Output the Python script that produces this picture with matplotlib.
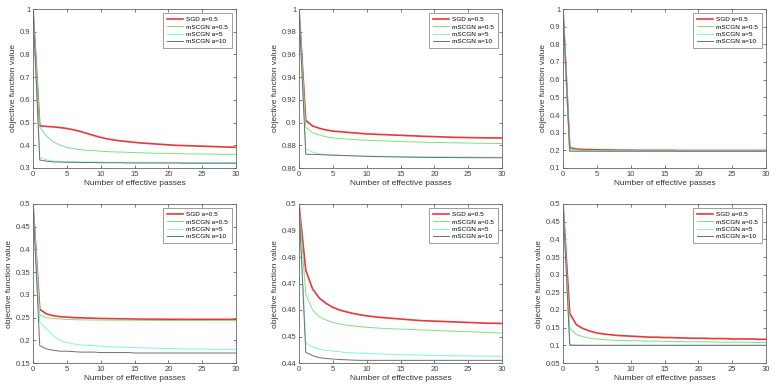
import numpy as np
import matplotlib
matplotlib.use('Agg')
import matplotlib.pyplot as plt

plt.rcParams['font.family'] = ['Liberation Sans', 'DejaVu Sans']

passes = list(range(31))
labels = ['SGD a=0.5', 'mSCGN a=0.5', 'mSCGN a=5', 'mSCGN a=10']
colors = ['#e8383a', '#7fe07f', '#7ff2ee', '#6e6e6e']
widths = [1.2, 0.7, 0.7, 0.7]

# panel 1 (top left)
p1_sgd = [1, 0.485, 0.483, 0.481, 0.478, 0.474, 0.468, 0.461, 0.452, 0.443, 0.435, 0.428, 0.423, 0.419,
          0.416, 0.413, 0.410, 0.408, 0.406, 0.404, 0.402, 0.400, 0.399, 0.398, 0.397, 0.396, 0.395,
          0.394, 0.393, 0.392, 0.391]
p1_a05 = [1, 0.48, 0.44, 0.415, 0.400, 0.391, 0.385, 0.381, 0.378, 0.376, 0.374, 0.372, 0.371, 0.370,
          0.369, 0.368, 0.367, 0.366, 0.365, 0.365, 0.364, 0.363, 0.363, 0.362, 0.362, 0.361, 0.361,
          0.361, 0.360, 0.360, 0.360]
p1_a5 = [1, 0.345, 0.336, 0.331, 0.329, 0.328, 0.327, 0.327, 0.326, 0.326, 0.326, 0.325, 0.325, 0.325,
         0.325, 0.325, 0.325, 0.325, 0.324, 0.324, 0.324, 0.324, 0.324, 0.324, 0.324, 0.324, 0.324,
         0.324, 0.324, 0.324, 0.324]
p1_a10 = [1, 0.335, 0.330, 0.327, 0.326, 0.325, 0.325, 0.324, 0.324, 0.324, 0.323, 0.323, 0.323, 0.323,
          0.322, 0.322, 0.322, 0.322, 0.322, 0.322, 0.322, 0.322, 0.321, 0.321, 0.321, 0.321, 0.321,
          0.321, 0.321, 0.321, 0.321]

# panel 2 (top middle)
p2_sgd = [1, 0.902, 0.897, 0.895, 0.8935, 0.8925, 0.892, 0.8915, 0.891, 0.8905, 0.890, 0.8898, 0.8895,
          0.8893, 0.889, 0.8888, 0.8885, 0.8883, 0.888, 0.8878, 0.8876, 0.8874, 0.8872, 0.887, 0.8869,
          0.8868, 0.8867, 0.8866, 0.8865, 0.8865, 0.8864]
p2_a05 = [1, 0.896, 0.891, 0.889, 0.8875, 0.8865, 0.886, 0.8855, 0.885, 0.8847, 0.8845, 0.8842, 0.884,
          0.8838, 0.8835, 0.8833, 0.8831, 0.883, 0.8828, 0.8826, 0.8825, 0.8824, 0.8823, 0.8822, 0.8821,
          0.882, 0.8819, 0.8818, 0.8817, 0.8816, 0.8815]
p2_a5 = [1, 0.877, 0.874, 0.8725, 0.872, 0.8715, 0.8712, 0.871, 0.8708, 0.8706, 0.8705, 0.8704, 0.8703,
         0.8702, 0.8701, 0.870, 0.870, 0.8699, 0.8699, 0.8698, 0.8698, 0.8698, 0.8697, 0.8697, 0.8697,
         0.8696, 0.8696, 0.8696, 0.8695, 0.8695, 0.8695]
p2_a10 = [1, 0.872, 0.872, 0.8718, 0.8715, 0.8713, 0.8711, 0.8709, 0.8707, 0.8705, 0.8703, 0.8701, 0.870,
          0.8699, 0.8698, 0.8697, 0.8696, 0.8695, 0.8694, 0.8694, 0.8693, 0.8693, 0.8692, 0.8692, 0.8691,
          0.8691, 0.8691, 0.869, 0.869, 0.869, 0.869]

# panel 3 (top right)
p3_sgd = [1, 0.215, 0.207, 0.205, 0.204, 0.203, 0.202, 0.202, 0.201, 0.201, 0.201, 0.200, 0.200, 0.200,
          0.200, 0.200, 0.200, 0.199, 0.199, 0.199, 0.199, 0.199, 0.199, 0.199, 0.199, 0.199, 0.199,
          0.199, 0.199, 0.199, 0.199]
p3_a05 = [1, 0.208, 0.202, 0.200, 0.199, 0.199, 0.198, 0.198, 0.198, 0.198, 0.198, 0.198, 0.197, 0.197,
          0.197, 0.197, 0.197, 0.197, 0.197, 0.197, 0.197, 0.197, 0.197, 0.197, 0.197, 0.197, 0.197,
          0.197, 0.197, 0.197, 0.197]
p3_a5 = [1, 0.197, 0.196, 0.196, 0.196, 0.196, 0.195, 0.195, 0.195, 0.195, 0.195, 0.195, 0.195, 0.195,
         0.195, 0.195, 0.195, 0.195, 0.195, 0.195, 0.195, 0.195, 0.195, 0.195, 0.195, 0.195, 0.195,
         0.195, 0.195, 0.195, 0.195]
p3_a10 = [1, 0.195, 0.195, 0.195, 0.195, 0.195, 0.195, 0.195, 0.195, 0.195, 0.195, 0.195, 0.195, 0.195,
          0.195, 0.195, 0.195, 0.195, 0.195, 0.195, 0.195, 0.195, 0.195, 0.195, 0.195, 0.195, 0.195,
          0.195, 0.195, 0.195, 0.195]

# panel 4 (bottom left)
p4_sgd = [0.5, 0.268, 0.258, 0.254, 0.252, 0.251, 0.250, 0.2495, 0.249, 0.2485, 0.248, 0.2478, 0.2475,
          0.2473, 0.247, 0.2468, 0.2466, 0.2465, 0.2464, 0.2463, 0.2462, 0.2462, 0.2461, 0.2461, 0.246,
          0.246, 0.246, 0.246, 0.246, 0.246, 0.246]
p4_a05 = [0.5, 0.256, 0.250, 0.248, 0.247, 0.246, 0.2455, 0.245, 0.2448, 0.2446, 0.2445, 0.2444, 0.2443,
          0.2442, 0.2441, 0.244, 0.244, 0.2439, 0.2438, 0.2437, 0.2436, 0.2436, 0.2435, 0.2435, 0.2434,
          0.2434, 0.2433, 0.2433, 0.2432, 0.2432, 0.2431]
p4_a5 = [0.5, 0.240, 0.225, 0.210, 0.200, 0.195, 0.192, 0.190, 0.189, 0.188, 0.187, 0.186, 0.185, 0.185,
         0.184, 0.184, 0.183, 0.183, 0.183, 0.182, 0.182, 0.182, 0.181, 0.181, 0.181, 0.181, 0.180,
         0.180, 0.180, 0.180, 0.180]
p4_a10 = [0.5, 0.188, 0.181, 0.178, 0.176, 0.176, 0.175, 0.174, 0.174, 0.174, 0.173, 0.173, 0.173, 0.173,
          0.173, 0.172, 0.172, 0.172, 0.172, 0.172, 0.172, 0.172, 0.172, 0.172, 0.172, 0.172, 0.172,
          0.172, 0.172, 0.172, 0.172]

# panel 5 (bottom middle)
p5_sgd = [0.5, 0.475, 0.468, 0.4645, 0.4625, 0.461, 0.460, 0.4593, 0.4587, 0.4582, 0.4578, 0.4575,
          0.4572, 0.457, 0.4568, 0.4566, 0.4564, 0.4562, 0.456, 0.4559, 0.4558, 0.4557, 0.4556, 0.4555,
          0.4554, 0.4553, 0.4552, 0.4551, 0.455, 0.455, 0.4549]
p5_a05 = [0.5, 0.466, 0.460, 0.4575, 0.4562, 0.4553, 0.4547, 0.4543, 0.454, 0.4537, 0.4535, 0.4533,
          0.4531, 0.453, 0.4529, 0.4528, 0.4527, 0.4526, 0.4525, 0.4524, 0.4523, 0.4522, 0.4521, 0.452,
          0.4519, 0.4518, 0.4517, 0.4516, 0.4515, 0.4514, 0.4513]
p5_a5 = [0.5, 0.4477, 0.446, 0.4452, 0.4448, 0.4445, 0.4442, 0.444, 0.4438, 0.4437, 0.4436, 0.4435,
         0.4434, 0.4433, 0.4432, 0.4431, 0.4431, 0.443, 0.443, 0.4429, 0.4429, 0.4428, 0.4428, 0.4427,
         0.4427, 0.4427, 0.4426, 0.4426, 0.4426, 0.4425, 0.4425]
p5_a10 = [0.5, 0.444, 0.4428, 0.442, 0.4417, 0.4415, 0.4413, 0.4412, 0.4411, 0.441, 0.441, 0.441, 0.441,
          0.441, 0.441, 0.441, 0.441, 0.441, 0.441, 0.441, 0.441, 0.441, 0.441, 0.441, 0.441, 0.441,
          0.441, 0.441, 0.441, 0.441, 0.441]

# panel 6 (bottom right)
p6_sgd = [0.5, 0.190, 0.158, 0.147, 0.140, 0.135, 0.132, 0.130, 0.128, 0.127, 0.126, 0.125, 0.124, 0.123,
          0.123, 0.122, 0.122, 0.121, 0.121, 0.120, 0.120, 0.120, 0.119, 0.119, 0.119, 0.118, 0.118,
          0.118, 0.118, 0.117, 0.117]
p6_a05 = [0.5, 0.148, 0.130, 0.124, 0.120, 0.118, 0.116, 0.115, 0.114, 0.114, 0.113, 0.113, 0.112, 0.112,
          0.112, 0.111, 0.111, 0.111, 0.110, 0.110, 0.110, 0.110, 0.110, 0.109, 0.109, 0.109, 0.109,
          0.109, 0.108, 0.108, 0.108]
p6_a5 = [0.5, 0.103, 0.101, 0.1005, 0.100, 0.100, 0.100, 0.100, 0.100, 0.100, 0.100, 0.100, 0.100, 0.100,
         0.100, 0.100, 0.100, 0.100, 0.100, 0.100, 0.100, 0.100, 0.100, 0.100, 0.100, 0.100, 0.100,
         0.100, 0.100, 0.100, 0.100]
p6_a10 = [0.5, 0.100, 0.100, 0.100, 0.100, 0.100, 0.100, 0.100, 0.100, 0.100, 0.100, 0.100, 0.100, 0.100,
          0.100, 0.100, 0.100, 0.100, 0.100, 0.100, 0.100, 0.100, 0.100, 0.100, 0.100, 0.100, 0.100,
          0.100, 0.100, 0.100, 0.100]

panels = [
    ([p1_sgd, p1_a05, p1_a5, p1_a10], (0.3, 1.0), np.arange(0.3, 1.01, 0.1)),
    ([p2_sgd, p2_a05, p2_a5, p2_a10], (0.86, 1.0), np.arange(0.86, 1.001, 0.02)),
    ([p3_sgd, p3_a05, p3_a5, p3_a10], (0.1, 1.0), np.arange(0.1, 1.01, 0.1)),
    ([p4_sgd, p4_a05, p4_a5, p4_a10], (0.15, 0.5), np.arange(0.15, 0.501, 0.05)),
    ([p5_sgd, p5_a05, p5_a5, p5_a10], (0.44, 0.5), np.arange(0.44, 0.5001, 0.01)),
    ([p6_sgd, p6_a05, p6_a5, p6_a10], (0.05, 0.5), np.arange(0.05, 0.501, 0.05)),
]

lefts = [33, 299, 563]
tops = [9, 204]
ax_w, ax_h = 203, 159
W, H = 777, 390

fig = plt.figure(figsize=(W / 100, H / 100), dpi=100)

def fmt(v):
    s = ('%.2f' % v).rstrip('0').rstrip('.')
    return s

for k, (series, ylim, yticks) in enumerate(panels):
    r, c = divmod(k, 3)
    ax = fig.add_axes([lefts[c] / W, 1 - (tops[r] + ax_h) / H, ax_w / W, ax_h / H])
    for ys, lab, col, lw in zip(series, labels, colors, widths):
        ax.plot(passes, ys, color=col, lw=lw, label=lab)
    ax.set_xlim(0, 30)
    ax.set_ylim(*ylim)
    ax.set_xticks(range(0, 31, 5))
    ax.set_yticks(yticks)
    ax.set_yticklabels([fmt(v) for v in yticks])
    ax.tick_params(direction='in', length=2, width=0.5, labelsize=5.5, colors='#444444',
                   top=True, right=True, pad=2)
    for sp in ax.spines.values():
        sp.set_color('#666666')
        sp.set_linewidth(0.6)
    ax.set_xlabel('Number of effective passes', fontsize=6, color='#333333', labelpad=1.5)
    ax.set_ylabel('objective function value', fontsize=6, color='#333333', labelpad=2)
    leg = ax.legend(loc='upper right', fontsize=4.6, frameon=True, fancybox=False,
                    handlelength=2.6, handletextpad=0.5, borderpad=0.5, labelspacing=0.3,
                    borderaxespad=0.7)
    leg.get_frame().set_edgecolor('#555555')
    leg.get_frame().set_linewidth(0.5)

fig.savefig('out.png', dpi=100)
